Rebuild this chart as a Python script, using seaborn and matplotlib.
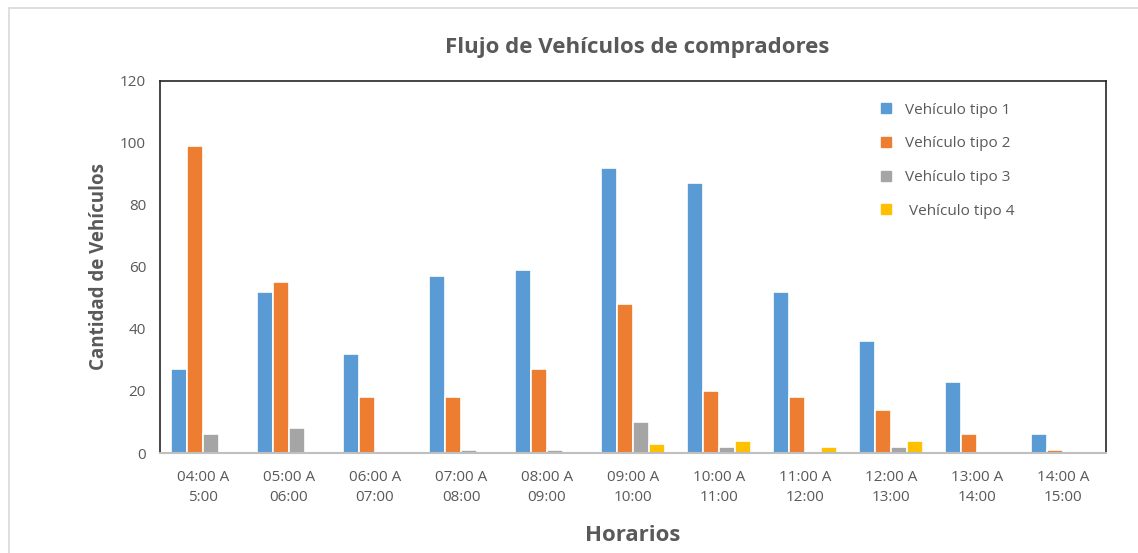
import matplotlib
matplotlib.use("Agg")
import matplotlib.pyplot as plt
import seaborn as sns
import pandas as pd
from matplotlib.lines import Line2D

horarios = ["04:00 A\n5:00", "05:00 A\n06:00", "06:00 A\n07:00", "07:00 A\n08:00",
            "08:00 A\n09:00", "09:00 A\n10:00", "10:00 A\n11:00", "11:00 A\n12:00",
            "12:00 A\n13:00", "13:00 A\n14:00", "14:00 A\n15:00"]
tipo1 = [27, 52, 32, 57, 59, 92, 87, 52, 36, 23, 6]
tipo2 = [99, 55, 18, 18, 27, 48, 20, 18, 14, 6, 1]
tipo3 = [6, 8, 0, 1, 1, 10, 2, 0, 2, 0, 0]
tipo4 = [0, 0, 0, 0, 0, 3, 4, 2, 4, 0, 0]
series_names = ["Vehículo tipo 1", "Vehículo tipo 2", "Vehículo tipo 3", " Vehículo tipo 4"]
colors = ["#5B9BD5", "#ED7D31", "#A5A5A5", "#FFC000"]

rows = []
for name, vals in zip(series_names, [tipo1, tipo2, tipo3, tipo4]):
    for h, v in zip(horarios, vals):
        rows.append({"Horario": h, "Serie": name, "Valor": v})
df = pd.DataFrame(rows)

sns.set_theme(style="white")
plt.rcParams['font.family'] = ['Open Sans', 'DejaVu Sans']

fig = plt.figure(figsize=(11.38, 5.53), dpi=100)
ax = fig.add_axes([0.1406, 0.1808, 0.9719 - 0.1406, 0.854 - 0.1808])

sns.barplot(data=df, x="Horario", y="Valor", hue="Serie", palette=colors, saturation=1,
            width=0.75, edgecolor="white", linewidth=1.2, ax=ax, legend=False)

ax.set_ylim(0, 120)
ax.set_yticks(range(0, 121, 20))
ax.set_xlim(-0.5, len(horarios) - 0.5)
ax.tick_params(axis="both", length=0, labelsize=11, colors="#595959")
ax.tick_params(axis="y", pad=10)
ax.tick_params(axis="x", pad=12)
for t in ax.get_xticklabels():
    t.set_linespacing(1.5)
for s in ["left", "top", "right"]:
    ax.spines[s].set_color("#262626")
    ax.spines[s].set_linewidth(1.2)
ax.spines["bottom"].set_color("#BFBFBF")
ax.spines["bottom"].set_linewidth(1.5)

ax.set_xlabel("Horarios", fontsize=16, fontweight="bold", color="#595959", labelpad=14)
ax.set_ylabel("Cantidad de Vehículos", fontsize=13.5, fontweight="bold", color="#595959", labelpad=8)
fig.text(0.56, 0.915, "Flujo de Vehículos de compradores", ha="center", va="center",
         fontsize=16, fontweight="bold", color="#595959")

handles = [Line2D([0], [0], marker="s", linestyle="none", markersize=7,
                  markerfacecolor=c, markeredgecolor=c) for c in colors]
leg = ax.legend(handles, series_names, loc="upper left", bbox_to_anchor=(0.737, 0.978),
                frameon=False, fontsize=11, labelspacing=1.22, handletextpad=0.2)
for t in leg.get_texts():
    t.set_color("#595959")

# outer chart border
fig.add_artist(Line2D([9 / 1138, 9 / 1138], [0, 1 - 8 / 553], transform=fig.transFigure,
                      color="#D9D9D9", linewidth=1.2))
fig.add_artist(Line2D([9 / 1138, 1], [1 - 8 / 553, 1 - 8 / 553], transform=fig.transFigure,
                      color="#D9D9D9", linewidth=1.2))

fig.savefig("out.png", dpi=100)
